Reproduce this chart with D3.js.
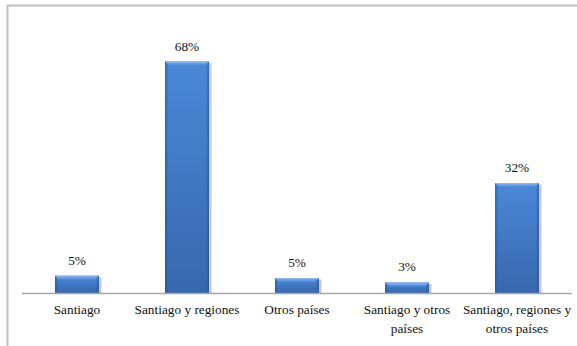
<!DOCTYPE html>
<html><head><meta charset="utf-8">
<script src="https://cdn.jsdelivr.net/npm/d3@7"></script>
</head><body style="margin:0;padding:0;background:#fff">
<svg id="c" width="577" height="346" style="display:block"></svg>
<script>
const categories = [["Santiago"], ["Santiago y regiones"], ["Otros países"], ["Santiago y otros", "países"], ["Santiago, regiones y", "otros países"]];
const values = [5.1, 68, 4.4, 3.1, 32.3];
const valueLabels = ["5%", "68%", "5%", "3%", "32%"];

const FONT = '"Liberation Serif"';
const svg = d3.select("#c");
const W = 577, H = 346;
const left = 22, right = 572, baseY = 293, topY = 61.5, maxV = 68;

svg.append("path").attr("d", `M7.5,${H} V5.5 H${W}`).attr("fill","none").attr("stroke","#bfbfbf").attr("stroke-width",2);

const x = d3.scaleBand().domain(d3.range(categories.length)).range([left, right]).paddingInner(0.6).paddingOuter(0.3);
const y = d3.scaleLinear().domain([0, maxV]).range([baseY, topY]);

const defs = svg.append("defs");
const gh = defs.append("linearGradient").attr("id","gv").attr("x1",0).attr("y1",0).attr("x2",0).attr("y2",1);
gh.append("stop").attr("offset","0%").attr("stop-color","#4a88d8");
gh.append("stop").attr("offset","100%").attr("stop-color","#3768ad");
const ge = defs.append("linearGradient").attr("id","ge").attr("x1",0).attr("y1",0).attr("x2",1).attr("y2",0);
ge.append("stop").attr("offset","0%").attr("stop-color","#1f4f8f").attr("stop-opacity",0.55);
ge.append("stop").attr("offset","8%").attr("stop-color","#1f4f8f").attr("stop-opacity",0);
ge.append("stop").attr("offset","92%").attr("stop-color","#1f4f8f").attr("stop-opacity",0);
ge.append("stop").attr("offset","100%").attr("stop-color","#1f4f8f").attr("stop-opacity",0.55);
const gt = defs.append("linearGradient").attr("id","gt").attr("x1",0).attr("y1",0).attr("x2",0).attr("y2",1);
gt.append("stop").attr("offset","0%").attr("stop-color","#8fb8ec");
gt.append("stop").attr("offset","100%").attr("stop-color","#4a88d8");

const bars = svg.append("g").selectAll("g").data(values).join("g");
bars.append("rect")
  .attr("x", (d,i)=>x(i)+1.5).attr("y", d=>y(d)+1.5)
  .attr("width", x.bandwidth()+1).attr("height", d=>baseY-y(d)-1.5)
  .attr("fill","#c8c8c8");
bars.append("rect")
  .attr("x", (d,i)=>x(i)).attr("y", d=>y(d))
  .attr("width", x.bandwidth()).attr("height", d=>baseY-y(d))
  .attr("fill","url(#gv)");
bars.append("rect")
  .attr("x", (d,i)=>x(i)).attr("y", d=>y(d))
  .attr("width", x.bandwidth()).attr("height", d=>baseY-y(d))
  .attr("fill","url(#ge)");
bars.append("path")
  .attr("d", (d,i)=>{const x0=x(i), x1=x(i)+x.bandwidth(), t=y(d); return `M${x0},${t} H${x1} L${x1-4},${t+4} H${x0+4} Z`;})
  .attr("fill","url(#gt)");

svg.append("line").attr("x1",left).attr("x2",right).attr("y1",baseY+0.5).attr("y2",baseY+0.5)
  .attr("stroke","#a6a6a6").attr("stroke-width",1.5);

svg.append("g").selectAll("text").data(values).join("text")
  .attr("x",(d,i)=>x(i)+x.bandwidth()/2).attr("y",d=>y(d)-11)
  .attr("text-anchor","middle").style("font-family",FONT)
  .attr("font-size",13.3).attr("fill","#111")
  .text((d,i)=>valueLabels[i]);

const cl = svg.append("g").selectAll("text").data(categories).join("text")
  .attr("x",(d,i)=>x(i)+x.bandwidth()/2).attr("y",314)
  .attr("text-anchor","middle").style("font-family",FONT)
  .attr("font-size",13.3).attr("fill","#111");
cl.each(function(d,i){
  const t = d3.select(this);
  d.forEach((line,j)=>{
    t.append("tspan").attr("x",x(i)+x.bandwidth()/2).attr("dy", j===0?0:19).text(line);
  });
});
</script>
</body></html>
